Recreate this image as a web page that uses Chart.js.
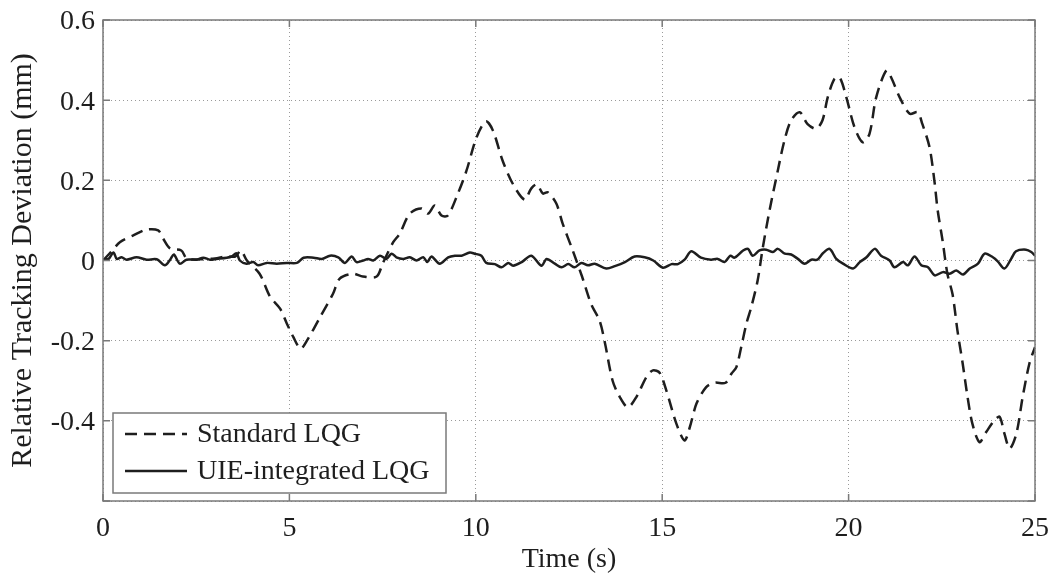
<!DOCTYPE html>
<html lang="en">
<head>
<meta charset="UTF-8">
<title>Relative Tracking Deviation</title>
<script src="https://cdn.jsdelivr.net/npm/chart.js"></script>
<style>
  html, body { margin: 0; padding: 0; background: #fff; }
</style>
</head>
<body>
<canvas id="trackingChart" width="1053" height="578"></canvas>
<script>
// Standard LQG response (dashed)
const stdTime = [0, 0.2, 0.46, 0.8, 1.17, 1.48, 1.61, 1.8, 2.1, 2.25, 2.6, 3.0, 3.3, 3.55, 3.7, 3.86,
  4.2, 4.48, 4.75, 4.93, 5.1, 5.3, 5.47, 5.82, 6.17, 6.35, 6.7, 6.97, 7.34, 7.5, 7.78, 7.96,
  8.23, 8.54, 8.72, 8.9, 9.08, 9.25, 9.52, 9.75, 10.02, 10.27, 10.46, 10.72, 11.0, 11.31, 11.49,
  11.64, 11.8, 11.93, 12.16, 12.33, 12.6, 12.85, 13.1, 13.32, 13.46, 13.67, 13.86, 14.08, 14.31,
  14.58, 14.75, 14.93, 15.11, 15.38, 15.6, 15.74, 15.92, 16.18, 16.4, 16.7, 16.86, 16.99, 17.12,
  17.26, 17.39, 17.56, 17.7, 17.88, 18.1, 18.28, 18.46, 18.69, 18.9, 19.13, 19.3, 19.44, 19.62,
  19.76, 19.94, 20.16, 20.38, 20.56, 20.74, 21.01, 21.14, 21.37, 21.64, 21.85, 21.98, 22.17, 22.3,
  22.39, 22.52, 22.65, 22.79, 22.92, 23.06, 23.19, 23.32, 23.51, 23.69, 23.91, 24.05, 24.18,
  24.32, 24.5, 24.67, 24.85, 25];
const stdDev = [0, 0.02, 0.046, 0.062, 0.077, 0.075, 0.055, 0.03, 0.025, 0.005, 0.003, 0.005, 0.01, 0.01, 0.025, 0.0,
  -0.033, -0.09, -0.12, -0.157, -0.19, -0.22, -0.2, -0.142, -0.083, -0.045, -0.033, -0.04, -0.04, -0.008, 0.045, 0.067,
  0.117, 0.13, 0.117, 0.137, 0.112, 0.112, 0.167, 0.224, 0.307, 0.347, 0.324, 0.249, 0.19, 0.152, 0.18,
  0.19, 0.167, 0.17, 0.142, 0.092, 0.025, -0.04, -0.11, -0.15, -0.204, -0.3, -0.34, -0.366, -0.34,
  -0.29, -0.274, -0.28, -0.324, -0.407, -0.449, -0.416, -0.357, -0.316, -0.305, -0.305, -0.282, -0.266, -0.216,
  -0.157, -0.116, -0.05, 0.033, 0.125, 0.224, 0.3, 0.35, 0.37, 0.34, 0.329, 0.35, 0.407, 0.453,
  0.457, 0.407, 0.332, 0.295, 0.316, 0.407, 0.474, 0.457, 0.407, 0.366, 0.37, 0.34, 0.283, 0.2,
  0.125, 0.05, -0.033, -0.085, -0.175, -0.257, -0.34, -0.407, -0.453, -0.428, -0.399, -0.39, -0.432,
  -0.469, -0.432, -0.34, -0.257, -0.216];

// UIE-integrated LQG response (solid)
const uieTime = [0, 0.15, 0.28, 0.37, 0.5, 0.63, 0.9, 1.17, 1.44, 1.66, 1.8, 1.9, 2.06, 2.24, 2.51, 2.69,
  2.87, 3.05, 3.32, 3.45, 3.58, 3.67, 3.85, 4.03, 4.16, 4.39, 4.66, 4.93, 5.2, 5.38, 5.65, 5.87,
  6.09, 6.31, 6.49, 6.67, 6.8, 6.98, 7.11, 7.25, 7.43, 7.6, 7.74, 7.87, 8.05, 8.23, 8.41, 8.59,
  8.7, 8.81, 9.03, 9.26, 9.44, 9.62, 9.84, 9.97, 10.15, 10.28, 10.51, 10.69, 10.87, 11.0, 11.23,
  11.49, 11.76, 11.9, 12.12, 12.3, 12.48, 12.65, 12.83, 13.01, 13.19, 13.5, 13.73, 14.0, 14.26,
  14.53, 14.76, 15.02, 15.25, 15.42, 15.6, 15.78, 16.04, 16.31, 16.49, 16.67, 16.83, 16.94, 17.17,
  17.3, 17.43, 17.61, 17.79, 17.97, 18.1, 18.29, 18.46, 18.64, 18.82, 19.0, 19.16, 19.31, 19.49,
  19.67, 19.85, 20.12, 20.3, 20.48, 20.7, 20.87, 21.1, 21.23, 21.46, 21.59, 21.77, 21.95, 22.13,
  22.31, 22.53, 22.71, 22.89, 23.07, 23.25, 23.47, 23.65, 23.87, 24.0, 24.18, 24.36, 24.49, 24.76,
  24.9, 25];
const uieDev = [0.002, 0.004, 0.02, 0.004, 0.008, 0.002, 0.008, 0.002, 0.003, -0.012, 0.002, 0.015, -0.008, 0.002, 0.002, 0.007,
  0.002, 0.004, 0.007, 0.01, 0.018, 0.0, -0.008, -0.004, -0.012, -0.006, -0.008, -0.006, -0.006, 0.007, 0.007, 0.004,
  0.012, 0.008, -0.006, 0.01, -0.004, 0.0, 0.004, 0.0, 0.012, 0.004, 0.017, 0.008, 0.004, 0.008, 0.0, 0.008,
  -0.004, 0.01, -0.008, 0.008, 0.012, 0.012, 0.02, 0.017, 0.012, -0.006, -0.009, -0.017, -0.006, -0.013, -0.004,
  0.012, -0.013, 0.004, -0.008, -0.017, -0.009, -0.017, -0.006, -0.012, -0.008, -0.02, -0.014, -0.004, 0.01,
  0.008, 0.0, -0.018, -0.009, -0.009, 0.002, 0.023, 0.007, 0.002, 0.004, -0.004, 0.012, 0.007, 0.025,
  0.029, 0.012, 0.025, 0.027, 0.021, 0.029, 0.017, 0.015, 0.004, -0.008, 0.002, 0.002, 0.018, 0.029,
  0.004, -0.008, -0.02, -0.004, 0.008, 0.029, 0.012, 0.0, -0.017, -0.004, -0.012, 0.01, -0.012, -0.017,
  -0.037, -0.029, -0.033, -0.025, -0.035, -0.02, -0.008, 0.017, 0.008, -0.002, -0.02, 0.004, 0.023, 0.027,
  0.021, 0.012];

const seriesNames = ['Standard LQG', 'UIE-integrated LQG'];
const xTickValues = [0, 5, 10, 15, 20, 25];
const yTickValues = [-0.6, -0.4, -0.2, 0, 0.2, 0.4, 0.6];

const serif = '"Liberation Serif", "Times New Roman", serif';
const inkColor = '#1e1e1e';
const frameColor = '#7a7a7a';
const dashPattern = [12, 7];

function toPoints(xs, ys) {
  return xs.map((x, i) => ({ x: x, y: ys[i] }));
}

// Axes box with inward ticks on all four sides, plus the legend box
const frameAndLegend = {
  id: 'frameAndLegend',
  afterDraw(chart) {
    const ctx = chart.ctx;
    const area = chart.chartArea;
    const xs = chart.scales.x;
    const ys = chart.scales.y;
    const tickLen = 7;

    ctx.save();
    ctx.strokeStyle = frameColor;
    ctx.lineWidth = 1.5;
    ctx.setLineDash([]);
    ctx.strokeRect(area.left, area.top, area.right - area.left, area.bottom - area.top);

    ctx.beginPath();
    xTickValues.forEach(v => {
      const px = xs.getPixelForValue(v);
      ctx.moveTo(px, area.bottom);
      ctx.lineTo(px, area.bottom - tickLen);
      ctx.moveTo(px, area.top);
      ctx.lineTo(px, area.top + tickLen);
    });
    yTickValues.forEach(v => {
      const py = ys.getPixelForValue(v);
      ctx.moveTo(area.left, py);
      ctx.lineTo(area.left + tickLen, py);
      ctx.moveTo(area.right, py);
      ctx.lineTo(area.right - tickLen, py);
    });
    ctx.stroke();

    // legend
    const box = { x: 113, y: 413, w: 333, h: 80 };
    ctx.fillStyle = '#fff';
    ctx.fillRect(box.x, box.y, box.w, box.h);
    ctx.strokeStyle = frameColor;
    ctx.lineWidth = 1.5;
    ctx.strokeRect(box.x, box.y, box.w, box.h);

    const rows = [box.y + 21, box.y + 58];
    chart.data.datasets.forEach((ds, i) => {
      const y = rows[i];
      ctx.strokeStyle = ds.borderColor;
      ctx.lineWidth = ds.borderWidth;
      ctx.setLineDash(ds.borderDash || []);
      ctx.beginPath();
      ctx.moveTo(box.x + 12, y);
      ctx.lineTo(box.x + 74, y);
      ctx.stroke();
      ctx.setLineDash([]);
      ctx.fillStyle = inkColor;
      ctx.font = '28px ' + serif;
      ctx.textBaseline = 'middle';
      ctx.textAlign = 'left';
      ctx.fillText(ds.label, box.x + 84, y + 1);
    });
    ctx.restore();
  }
};

new Chart(document.getElementById('trackingChart'), {
  type: 'scatter',
  data: {
    datasets: [
      {
        label: seriesNames[0],
        data: toPoints(stdTime, stdDev),
        showLine: true,
        borderColor: inkColor,
        borderWidth: 2.5,
        borderDash: dashPattern,
        pointRadius: 0,
        tension: 0.3
      },
      {
        label: seriesNames[1],
        data: toPoints(uieTime, uieDev),
        showLine: true,
        borderColor: inkColor,
        borderWidth: 2.5,
        pointRadius: 0,
        tension: 0.3
      }
    ]
  },
  options: {
    responsive: false,
    animation: false,
    layout: { padding: { left: 0, top: 20, right: 18, bottom: 0 } },
    plugins: {
      legend: { display: false },
      tooltip: { enabled: false }
    },
    scales: {
      x: {
        type: 'linear',
        min: 0,
        max: 25,
        afterBuildTicks: scale => { scale.ticks = xTickValues.map(v => ({ value: v })); },
        afterFit: scale => {
          scale.height = 77;
          scale.paddingLeft = 0;
          scale.paddingRight = 0;
        },
        grid: { color: '#9a9a9a', lineWidth: 1, drawTicks: false },
        border: { display: false, dash: [1, 3] },
        ticks: {
          color: inkColor,
          font: { family: serif, size: 28 },
          padding: 11,
          maxRotation: 0
        },
        title: {
          display: true,
          text: 'Time (s)',
          color: inkColor,
          font: { family: serif, size: 28 },
          padding: { top: 0, bottom: 2 }
        }
      },
      y: {
        type: 'linear',
        min: -0.6,
        max: 0.6,
        afterBuildTicks: scale => { scale.ticks = yTickValues.map(v => ({ value: v })); },
        afterFit: scale => {
          scale.width = 103;
          scale.paddingTop = 0;
          scale.paddingBottom = 0;
        },
        grid: { color: '#9a9a9a', lineWidth: 1, drawTicks: false },
        border: { display: false, dash: [1, 3] },
        ticks: {
          color: inkColor,
          font: { family: serif, size: 28 },
          padding: 8,
          labelOffset: 2,
          callback: v => {
            if (Math.abs(v) < 1e-9) return '0';
            if (v < -0.59) return '';
            return v.toFixed(1);
          }
        },
        title: {
          display: true,
          text: 'Relative Tracking Deviation (mm)',
          color: inkColor,
          font: { family: serif, size: 30 },
          padding: { top: 5, bottom: 0 }
        }
      }
    }
  },
  plugins: [frameAndLegend]
});
</script>
</body>
</html>
